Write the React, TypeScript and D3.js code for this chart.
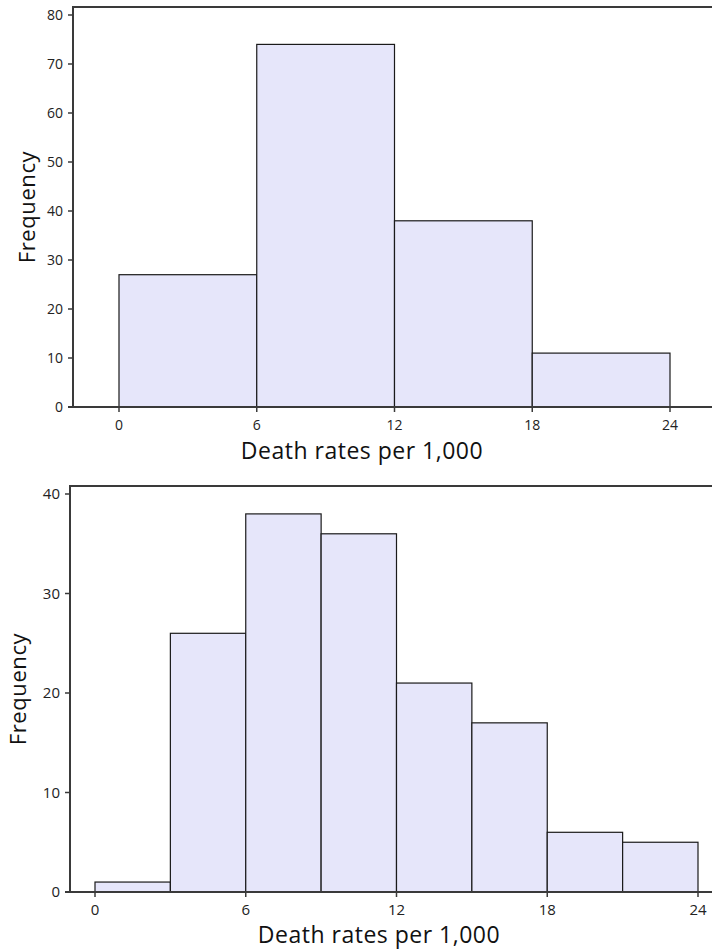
import * as d3 from "d3";
import React from "react";

// bin edges and counts
const topEdges = [0, 6, 12, 18, 24];
const topCounts = [27, 74, 38, 11];
const topYTicks = [0, 10, 20, 30, 40, 50, 60, 70, 80];

const bottomEdges = [0, 3, 6, 9, 12, 15, 18, 21, 24];
const bottomCounts = [1, 26, 38, 36, 21, 17, 6, 5];
const bottomYTicks = [0, 10, 20, 30, 40];

const xTicks = [0, 6, 12, 18, 24];
const xTitle = "Death rates per 1,000";
const yTitle = "Frequency";

const FONT = "'Open Sans', 'Noto Sans', sans-serif";
const AXIS = "#3a3a3a";

const Histogram = ({ edges, counts, yTicks, yMax, xRange, yRange, frameLeft, frameTop, yTitleX, titleX, titleY, tickSize }) => {
	const x = d3.scaleLinear().domain([0, 24]).range(xRange);
	const y = d3.scaleLinear().domain([0, yMax]).range(yRange);
	const bottom = y(0);
	const bins = counts.map((c, i) => ({ x0: edges[i], x1: edges[i + 1], n: c }));

	return (
		<g>
			{bins.map((b, i) => (
				<rect
					key={i}
					x={x(b.x0)}
					y={y(b.n)}
					width={x(b.x1) - x(b.x0)}
					height={bottom - y(b.n)}
					fill="#e6e6fa"
					stroke="#1a1a1a"
					strokeWidth={1.2}
				/>
			))}
			{/* frame: left, top, bottom (right side runs off the page) */}
			<line x1={frameLeft} x2={frameLeft} y1={frameTop} y2={bottom} stroke={AXIS} strokeWidth={2} />
			<line x1={frameLeft - 1} x2={712} y1={frameTop} y2={frameTop} stroke={AXIS} strokeWidth={2} />
			<line x1={frameLeft - 5} x2={712} y1={bottom} y2={bottom} stroke={AXIS} strokeWidth={2} />

			{yTicks.map((t) => (
				<g key={t}>
					<line x1={frameLeft - 5} x2={frameLeft} y1={y(t)} y2={y(t)} stroke={AXIS} strokeWidth={1.5} />
					<text
						x={frameLeft - 10}
						y={y(t)}
						dy="0.36em"
						textAnchor="end"
						fontSize={tickSize}
						fontFamily={FONT}
						fill="#222"
					>
						{t}
					</text>
				</g>
			))}
			{xTicks.map((t) => (
				<g key={t}>
					<line x1={x(t)} x2={x(t)} y1={bottom} y2={bottom + 5} stroke={AXIS} strokeWidth={1.5} />
					<text
						x={x(t)}
						y={bottom + 23}
						textAnchor="middle"
						fontSize={tickSize}
						fontFamily={FONT}
						fill="#222"
					>
						{t}
					</text>
				</g>
			))}
			<text
				x={titleX}
				y={titleY}
				textAnchor="middle"
				fontSize={23}
				letterSpacing={0.5}
				fontFamily={FONT}
				fill="#111"
			>
				{xTitle}
			</text>
			<text
				transform={`translate(${yTitleX},${(frameTop + bottom) / 2}) rotate(-90)`}
				textAnchor="middle"
				fontSize={22}
				letterSpacing={0.6}
				fontFamily={FONT}
				fill="#111"
			>
				{yTitle}
			</text>
		</g>
	);
};

export default function App() {
	return (
		<svg
			width={712}
			height={950}
			style={{ position: "absolute", left: 0, top: 0, background: "#fff" }}
		>
			<Histogram
				edges={topEdges}
				counts={topCounts}
				yTicks={topYTicks}
				yMax={80}
				xRange={[119, 670]}
				yRange={[407, 15]}
				frameLeft={73}
				frameTop={7}
				yTitleX={35}
				titleX={362}
				titleY={459}
				tickSize={14}
			/>
			<Histogram
				edges={bottomEdges}
				counts={bottomCounts}
				yTicks={bottomYTicks}
				yMax={40}
				xRange={[95, 698]}
				yRange={[892, 494]}
				frameLeft={70}
				frameTop={486}
				yTitleX={26}
				titleX={379}
				titleY={943}
				tickSize={15}
			/>
		</svg>
	);
}
